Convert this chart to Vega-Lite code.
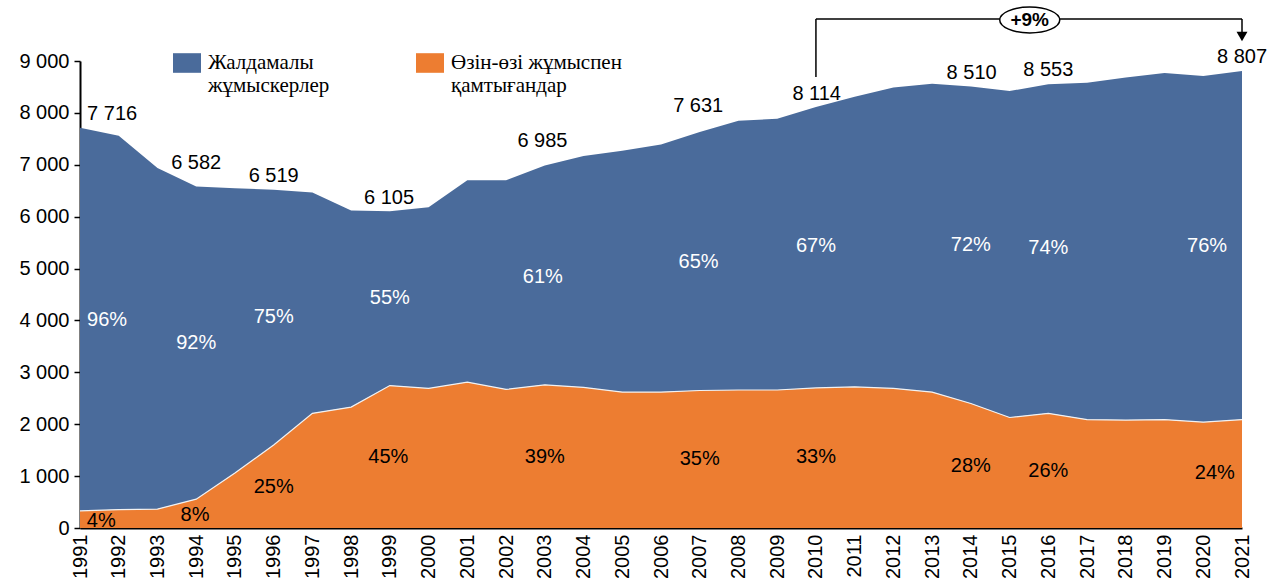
{
  "$schema": "https://vega.github.io/schema/vega-lite/v6.json",
  "width": 1162,
  "height": 467,
  "autosize": {"type": "none"},
  "padding": {"left": 80, "top": 61, "right": 40, "bottom": 55},
  "background": "white",
  "datasets": {
    "areas": [
      {"year": 1991, "group": "Өзін-өзі жұмыспен қамтығандар", "ord": 1, "value": 330},
      {"year": 1992, "group": "Өзін-өзі жұмыспен қамтығандар", "ord": 1, "value": 355},
      {"year": 1993, "group": "Өзін-өзі жұмыспен қамтығандар", "ord": 1, "value": 365},
      {"year": 1994, "group": "Өзін-өзі жұмыспен қамтығандар", "ord": 1, "value": 555},
      {"year": 1995, "group": "Өзін-өзі жұмыспен қамтығандар", "ord": 1, "value": 1060},
      {"year": 1996, "group": "Өзін-өзі жұмыспен қамтығандар", "ord": 1, "value": 1600},
      {"year": 1997, "group": "Өзін-өзі жұмыспен қамтығандар", "ord": 1, "value": 2210},
      {"year": 1998, "group": "Өзін-өзі жұмыспен қамтығандар", "ord": 1, "value": 2330},
      {"year": 1999, "group": "Өзін-өзі жұмыспен қамтығандар", "ord": 1, "value": 2745},
      {"year": 2000, "group": "Өзін-өзі жұмыспен қамтығандар", "ord": 1, "value": 2690},
      {"year": 2001, "group": "Өзін-өзі жұмыспен қамтығандар", "ord": 1, "value": 2810},
      {"year": 2002, "group": "Өзін-өзі жұмыспен қамтығандар", "ord": 1, "value": 2670},
      {"year": 2003, "group": "Өзін-өзі жұмыспен қамтығандар", "ord": 1, "value": 2760},
      {"year": 2004, "group": "Өзін-өзі жұмыспен қамтығандар", "ord": 1, "value": 2710},
      {"year": 2005, "group": "Өзін-өзі жұмыспен қамтығандар", "ord": 1, "value": 2620},
      {"year": 2006, "group": "Өзін-өзі жұмыспен қамтығандар", "ord": 1, "value": 2620},
      {"year": 2007, "group": "Өзін-өзі жұмыспен қамтығандар", "ord": 1, "value": 2650},
      {"year": 2008, "group": "Өзін-өзі жұмыспен қамтығандар", "ord": 1, "value": 2660},
      {"year": 2009, "group": "Өзін-өзі жұмыспен қамтығандар", "ord": 1, "value": 2660},
      {"year": 2010, "group": "Өзін-өзі жұмыспен қамтығандар", "ord": 1, "value": 2700},
      {"year": 2011, "group": "Өзін-өзі жұмыспен қамтығандар", "ord": 1, "value": 2720},
      {"year": 2012, "group": "Өзін-өзі жұмыспен қамтығандар", "ord": 1, "value": 2690},
      {"year": 2013, "group": "Өзін-өзі жұмыспен қамтығандар", "ord": 1, "value": 2620},
      {"year": 2014, "group": "Өзін-өзі жұмыспен қамтығандар", "ord": 1, "value": 2400},
      {"year": 2015, "group": "Өзін-өзі жұмыспен қамтығандар", "ord": 1, "value": 2130},
      {"year": 2016, "group": "Өзін-өзі жұмыспен қамтығандар", "ord": 1, "value": 2210},
      {"year": 2017, "group": "Өзін-өзі жұмыспен қамтығандар", "ord": 1, "value": 2090},
      {"year": 2018, "group": "Өзін-өзі жұмыспен қамтығандар", "ord": 1, "value": 2080},
      {"year": 2019, "group": "Өзін-өзі жұмыспен қамтығандар", "ord": 1, "value": 2090},
      {"year": 2020, "group": "Өзін-өзі жұмыспен қамтығандар", "ord": 1, "value": 2040},
      {"year": 2021, "group": "Өзін-өзі жұмыспен қамтығандар", "ord": 1, "value": 2090},
      {"year": 1991, "group": "Жалдамалы жұмыскерлер", "ord": 2, "value": 7386},
      {"year": 1992, "group": "Жалдамалы жұмыскерлер", "ord": 2, "value": 7205},
      {"year": 1993, "group": "Жалдамалы жұмыскерлер", "ord": 2, "value": 6575},
      {"year": 1994, "group": "Жалдамалы жұмыскерлер", "ord": 2, "value": 6027},
      {"year": 1995, "group": "Жалдамалы жұмыскерлер", "ord": 2, "value": 5490},
      {"year": 1996, "group": "Жалдамалы жұмыскерлер", "ord": 2, "value": 4919},
      {"year": 1997, "group": "Жалдамалы жұмыскерлер", "ord": 2, "value": 4255},
      {"year": 1998, "group": "Жалдамалы жұмыскерлер", "ord": 2, "value": 3790},
      {"year": 1999, "group": "Жалдамалы жұмыскерлер", "ord": 2, "value": 3360},
      {"year": 2000, "group": "Жалдамалы жұмыскерлер", "ord": 2, "value": 3490},
      {"year": 2001, "group": "Жалдамалы жұмыскерлер", "ord": 2, "value": 3890},
      {"year": 2002, "group": "Жалдамалы жұмыскерлер", "ord": 2, "value": 4030},
      {"year": 2003, "group": "Жалдамалы жұмыскерлер", "ord": 2, "value": 4225},
      {"year": 2004, "group": "Жалдамалы жұмыскерлер", "ord": 2, "value": 4460},
      {"year": 2005, "group": "Жалдамалы жұмыскерлер", "ord": 2, "value": 4650},
      {"year": 2006, "group": "Жалдамалы жұмыскерлер", "ord": 2, "value": 4770},
      {"year": 2007, "group": "Жалдамалы жұмыскерлер", "ord": 2, "value": 4981},
      {"year": 2008, "group": "Жалдамалы жұмыскерлер", "ord": 2, "value": 5190},
      {"year": 2009, "group": "Жалдамалы жұмыскерлер", "ord": 2, "value": 5225},
      {"year": 2010, "group": "Жалдамалы жұмыскерлер", "ord": 2, "value": 5414},
      {"year": 2011, "group": "Жалдамалы жұмыскерлер", "ord": 2, "value": 5590},
      {"year": 2012, "group": "Жалдамалы жұмыскерлер", "ord": 2, "value": 5800},
      {"year": 2013, "group": "Жалдамалы жұмыскерлер", "ord": 2, "value": 5940},
      {"year": 2014, "group": "Жалдамалы жұмыскерлер", "ord": 2, "value": 6110},
      {"year": 2015, "group": "Жалдамалы жұмыскерлер", "ord": 2, "value": 6290},
      {"year": 2016, "group": "Жалдамалы жұмыскерлер", "ord": 2, "value": 6343},
      {"year": 2017, "group": "Жалдамалы жұмыскерлер", "ord": 2, "value": 6490},
      {"year": 2018, "group": "Жалдамалы жұмыскерлер", "ord": 2, "value": 6600},
      {"year": 2019, "group": "Жалдамалы жұмыскерлер", "ord": 2, "value": 6680},
      {"year": 2020, "group": "Жалдамалы жұмыскерлер", "ord": 2, "value": 6670},
      {"year": 2021, "group": "Жалдамалы жұмыскерлер", "ord": 2, "value": 6717}
    ],
    "labels": [
      {"x": 1991.83, "y": 7980, "text": "7 716", "kind": "total"},
      {"x": 1994.0, "y": 7040, "text": "6 582", "kind": "total"},
      {"x": 1996.0, "y": 6790, "text": "6 519", "kind": "total"},
      {"x": 1998.98, "y": 6365, "text": "6 105", "kind": "total"},
      {"x": 2002.94, "y": 7460, "text": "6 985", "kind": "total"},
      {"x": 2006.96, "y": 8135, "text": "7 631", "kind": "total"},
      {"x": 2010.02, "y": 8365, "text": "8 114", "kind": "total"},
      {"x": 2014.02, "y": 8770, "text": "8 510", "kind": "total"},
      {"x": 2016.0, "y": 8825, "text": "8 553", "kind": "total"},
      {"x": 2021.0, "y": 9075, "text": "8 807", "kind": "total"},
      {"x": 1991.7, "y": 4000, "text": "96%", "kind": "emp"},
      {"x": 1994.0, "y": 3560, "text": "92%", "kind": "emp"},
      {"x": 1996.0, "y": 4060, "text": "75%", "kind": "emp"},
      {"x": 1999.0, "y": 4440, "text": "55%", "kind": "emp"},
      {"x": 2002.95, "y": 4830, "text": "61%", "kind": "emp"},
      {"x": 2006.97, "y": 5130, "text": "65%", "kind": "emp"},
      {"x": 2010.0, "y": 5440, "text": "67%", "kind": "emp"},
      {"x": 2014.0, "y": 5460, "text": "72%", "kind": "emp"},
      {"x": 2016.0, "y": 5400, "text": "74%", "kind": "emp"},
      {"x": 2020.1, "y": 5440, "text": "76%", "kind": "emp"},
      {"x": 1991.55, "y": 135, "text": "4%", "kind": "self"},
      {"x": 1993.97, "y": 250, "text": "8%", "kind": "self"},
      {"x": 1996.0, "y": 790, "text": "25%", "kind": "self"},
      {"x": 1998.96, "y": 1365, "text": "45%", "kind": "self"},
      {"x": 2003.0, "y": 1365, "text": "39%", "kind": "self"},
      {"x": 2007.0, "y": 1327, "text": "35%", "kind": "self"},
      {"x": 2010.0, "y": 1365, "text": "33%", "kind": "self"},
      {"x": 2014.0, "y": 1192, "text": "28%", "kind": "self"},
      {"x": 2016.0, "y": 1096, "text": "26%", "kind": "self"},
      {"x": 2020.3, "y": 1058, "text": "24%", "kind": "self"}
    ],
    "bracket": [
      {"x": 2010, "y": 8692, "x2": 2010, "y2": 9808},
      {"x": 2010, "y": 9808, "x2": 2021, "y2": 9808},
      {"x": 2021, "y": 9808, "x2": 2021, "y2": 9540}
    ],
    "change": [
      {"x": 2015.52, "y": 9790, "text": "+9%", "ax": 2021, "ay": 9470}
    ]
  },
  "encoding": {
    "x": {
      "type": "quantitative",
      "scale": {"domain": [1991, 2021], "nice": false, "zero": false},
      "axis": {
        "values": [1991,1992,1993,1994,1995,1996,1997,1998,1999,2000,2001,2002,2003,2004,2005,2006,2007,2008,2009,2010,2011,2012,2013,2014,2015,2016,2017,2018,2019,2020,2021],
        "format": "d",
        "labelAngle": -90,
        "labelFontSize": 20,
        "labelFont": "Liberation Sans",
        "labelColor": "#000000",
        "ticks": false,
        "labelPadding": 6,
        "domainColor": "#000000",
        "domainWidth": 2,
        "grid": false,
        "title": null,
        "labelOverlap": false,
        "labelFlush": false
      }
    },
    "y": {
      "type": "quantitative",
      "scale": {"domain": [0, 9000], "nice": false, "zero": true},
      "axis": {
        "values": [0,1000,2000,3000,4000,5000,6000,7000,8000,9000],
        "labelExpr": "replace(format(datum.value, ','), ',', ' ')",
        "labelFontSize": 20,
        "labelFont": "Liberation Sans",
        "labelColor": "#000000",
        "tickSize": 6,
        "tickColor": "#000000",
        "tickWidth": 1.5,
        "labelPadding": 5,
        "domainColor": "#000000",
        "domainWidth": 2,
        "grid": false,
        "title": null
      }
    }
  },
  "layer": [
    {
      "data": {"name": "areas"},
      "mark": {"type": "area", "opacity": 1},
      "encoding": {
        "x": {"field": "year", "type": "quantitative"},
        "y": {"field": "value", "type": "quantitative", "stack": "zero"},
        "order": {"field": "ord", "type": "quantitative"},
        "color": {
          "field": "group",
          "type": "nominal",
          "scale": {
            "domain": ["Жалдамалы жұмыскерлер", "Өзін-өзі жұмыспен қамтығандар"],
            "range": ["#4A6B9B", "#ED7D31"]
          },
          "legend": {
            "orient": "none",
            "legendX": 93,
            "legendY": -12,
            "direction": "horizontal",
            "columns": 2,
            "title": null,
            "symbolType": "M-1,-0.7H1V0.7H-1Z",
            "symbolSize": 784,
            "symbolStrokeWidth": 0,
            "symbolOpacity": 1,
            "labelFont": "Liberation Serif",
            "labelFontSize": 21,
            "labelColor": "#000000",
            "labelLimit": 0,
            "labelOffset": 7,
            "labelBaseline": "middle",
            "columnPadding": 86,
            "labelExpr": "datum.label == 'Жалдамалы жұмыскерлер' ? ['Жалдамалы', 'жұмыскерлер'] : ['Өзін-өзі жұмыспен', 'қамтығандар']"
          }
        }
      }
    },
    {
      "data": {"name": "areas"},
      "transform": [{"filter": "datum.ord == 1"}],
      "mark": {"type": "line", "color": "#F2F2F2", "strokeWidth": 1.2},
      "encoding": {
        "x": {"field": "year", "type": "quantitative"},
        "y": {"field": "value", "type": "quantitative"}
      }
    },
    {
      "data": {"name": "labels"},
      "mark": {"type": "text", "font": "Liberation Sans", "fontSize": 20, "align": "center", "baseline": "middle"},
      "encoding": {
        "x": {"field": "x", "type": "quantitative"},
        "y": {"field": "y", "type": "quantitative"},
        "text": {"field": "text"},
        "color": {"condition": {"test": "datum.kind == 'emp'", "value": "#FFFFFF"}, "value": "#000000"}
      }
    },
    {
      "data": {"name": "bracket"},
      "mark": {"type": "rule", "color": "#000000", "strokeWidth": 1.5, "clip": false},
      "encoding": {
        "x": {"field": "x", "type": "quantitative"},
        "y": {"field": "y", "type": "quantitative"},
        "x2": {"field": "x2"},
        "y2": {"field": "y2"}
      }
    },
    {
      "data": {"name": "change"},
      "mark": {"type": "point", "shape": "triangle-down", "filled": true, "color": "#000000", "opacity": 1, "size": 120, "clip": false},
      "encoding": {
        "x": {"field": "ax", "type": "quantitative"},
        "y": {"field": "ay", "type": "quantitative"}
      }
    },
    {
      "data": {"name": "change"},
      "mark": {"type": "point", "shape": "M-1,0A1,0.43,0,1,0,1,0A1,0.43,0,1,0,-1,0Z", "filled": true, "fill": "#FFFFFF", "stroke": "#000000", "strokeWidth": 1.5, "size": 3600, "opacity": 1, "clip": false},
      "encoding": {
        "x": {"field": "x", "type": "quantitative"},
        "y": {"field": "y", "type": "quantitative"}
      }
    },
    {
      "data": {"name": "change"},
      "mark": {"type": "text", "font": "Liberation Sans", "fontSize": 19, "fontWeight": "bold", "align": "center", "baseline": "middle", "color": "#000000", "clip": false},
      "encoding": {
        "x": {"field": "x", "type": "quantitative"},
        "y": {"field": "y", "type": "quantitative"},
        "text": {"field": "text"}
      }
    }
  ],
  "config": {
    "view": {"stroke": null},
    "font": "Liberation Sans",
    "style": {"guide-label": {"lineHeight": 23}}
  }
}
